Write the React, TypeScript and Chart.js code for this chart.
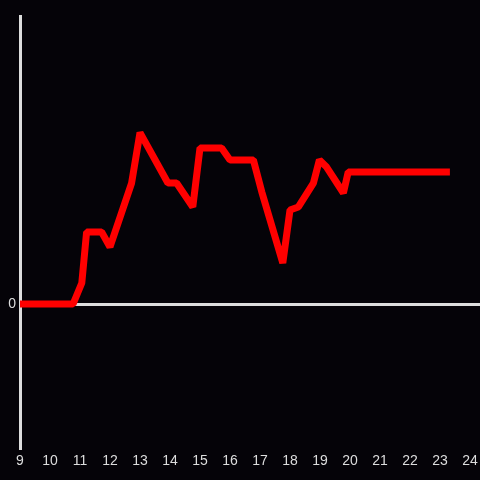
import React, { useEffect, useRef } from "react";
import { Chart, registerables } from "chart.js";

Chart.register(...registerables);

const times = [9, 10.77, 11.06, 11.22, 11.72, 12.0, 12.72, 13.0, 13.93, 14.22, 14.76, 15.0, 15.72, 16.0, 16.78, 17.06, 17.76, 18.0, 18.28, 18.78, 18.98, 19.22, 19.78, 19.94, 23.33];
const values = [0, 0, 14.6, 50, 50, 39.6, 84, 119, 84, 84, 67.4, 108.3, 108.3, 100, 100, 77.8, 28.5, 65.3, 67.4, 84, 100, 95.1, 77.1, 91.7, 91.7];
const xTickValues = [9, 10, 11, 12, 13, 14, 15, 16, 17, 18, 19, 20, 21, 22, 23, 24];
const yTickValues = [0];

const BG = "#050308";
const AXIS = "#dddddd";

export default function App() {
  const ref = useRef<HTMLCanvasElement | null>(null);

  useEffect(() => {
    const canvas = ref.current;
    if (!canvas) return;
    const bgPlugin = {
      id: "bg",
      beforeDraw(chart: any) {
        const ctx = chart.ctx;
        ctx.save();
        ctx.fillStyle = BG;
        ctx.fillRect(0, 0, chart.width, chart.height);
        ctx.restore();
      },
    };
    const chart = new Chart(canvas, {
      type: "line",
      data: {
        datasets: [
          {
            data: times.map((t, i) => ({ x: t, y: values[i] })),
            borderColor: "#ff0000",
            borderWidth: 7,
            borderJoinStyle: "bevel",
            pointRadius: 0,
            tension: 0,
            fill: false,
          },
        ],
      },
      options: {
        responsive: false,
        animation: false,
        layout: { padding: { top: 16, left: 0, right: 0, bottom: 0 } },
        plugins: {
          legend: { display: false },
          tooltip: { enabled: false },
        },
        scales: {
          x: {
            type: "linear",
            min: 9,
            max: 9 + 460 / 30,
            afterBuildTicks(scale: any) {
              scale.ticks = xTickValues.map((v) => ({ value: v }));
            },
            afterFit(scale: any) {
              scale.height = 32;
              scale.paddingLeft = 0;
              scale.paddingRight = 0;
              scale.paddingTop = 0;
              scale.paddingBottom = 0;
            },
            grid: { display: false, drawTicks: false },
            border: { display: false },
            ticks: {
              color: AXIS,
              padding: 5,
              maxRotation: 0,
              autoSkip: false,
              font: { family: "'Liberation Sans', Arial, sans-serif", size: 14 },
            },
          },
          y: {
            type: "linear",
            min: -100,
            max: 200,
            afterBuildTicks(scale: any) {
              scale.ticks = yTickValues.map((v) => ({ value: v }));
            },
            afterFit(scale: any) {
              scale.width = 20;
              scale.paddingTop = 0;
              scale.paddingBottom = 0;
              scale.paddingLeft = 0;
              scale.paddingRight = 0;
            },
            grid: {
              display: true,
              drawOnChartArea: true,
              drawTicks: false,
              color: AXIS,
              lineWidth: 3,
            },
            border: { display: true, color: AXIS, width: 3 },
            ticks: {
              color: AXIS,
              padding: 4,
              font: { family: "'Liberation Sans', Arial, sans-serif", size: 14 },
            },
          },
        },
      },
      plugins: [bgPlugin],
    } as any);
    return () => chart.destroy();
  }, []);

  return (
    <div style={{ position: "fixed", left: 0, top: 0, width: 480, height: 480, background: BG }}>
      <canvas ref={ref} width={480} height={480} style={{ display: "block", width: 480, height: 480 }} />
    </div>
  );
}
